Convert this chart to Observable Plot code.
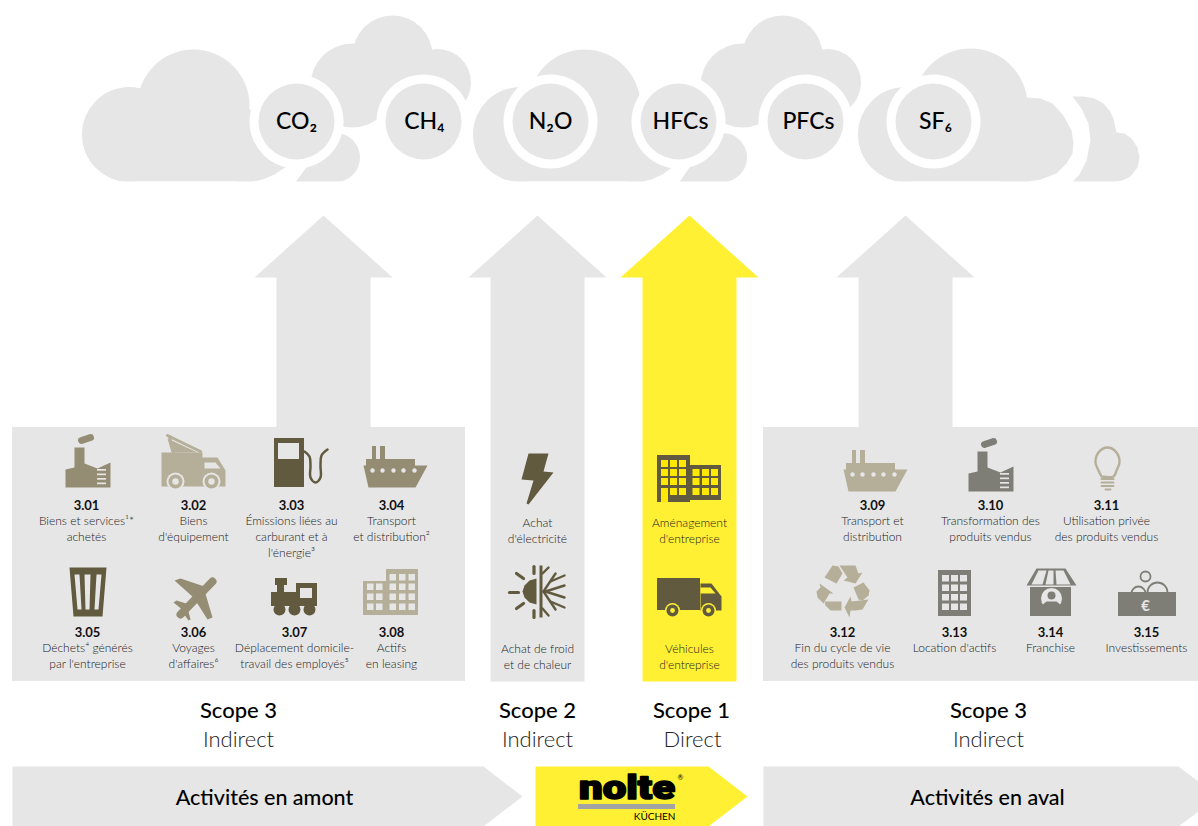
<!DOCTYPE html>
<html><head><meta charset="utf-8">
<script src="https://cdn.jsdelivr.net/npm/d3@7"></script>
<script src="https://cdn.jsdelivr.net/npm/@observablehq/plot@0.6"></script>
<style>html,body{margin:0;padding:0;background:#fff}svg{display:block}</style>
</head><body><div id="chart"></div>
<script>
const gases = ["CO₂","CH₄","N₂O","HFCs","PFCs","SF₆"];
const scopeNames = ["Scope 3","Scope 2","Scope 1","Scope 3"];
const scopeKinds = ["Indirect","Indirect","Direct","Indirect"];
const stages = ["Activités en amont","Activités en aval"];
const codes = ["3.01","3.02","3.03","3.04","3.05","3.06","3.07","3.08","3.09","3.10","3.11","3.12","3.13","3.14","3.15"];
const labels = ["Biens et services¹*\nachetés","Biens\nd'équipement","Émissions liées au\ncarburant et à\nl'énergie³","Transport\net distribution²",
 "Déchets⁴ générés\npar l'entreprise","Voyages\nd'affaires⁶","Déplacement domicile-\ntravail des employés⁵","Actifs\nen leasing",
 "Transport et\ndistribution","Transformation des\nproduits vendus","Utilisation privée\ndes produits vendus",
 "Fin du cycle de vie\ndes produits vendus","Location d'actifs","Franchise","Investissements"];
const middleLabels = ["Achat\nd'électricité","Achat de froid\net de chaleur","Aménagement\nd'entreprise","Véhicules\nd'entreprise"];

// layout (kept apart from the content above)
const gasX = [296,423,550,678,805,933];
const gasTextX = [296,424,550,680,808,935];
const scopeX = [238,537,691,988];
const stageX = [264,987];
const codeX = [86,193,291,391,87,193,294,391,872,990,1106,842,954,1050,1146];
const codeY = [505,505,505,505,632,632,632,632,505,505,505,632,632,632,632];
const midX = [537,537,689,689];
const midY = [515,641,515,641];

const GREY="#e6e6e6", YEL="#fff033", WIN="#ffe900", DK="#625a3f", MID="#948c73", LT="#b5ae98", SLATE="#7f7e76";
const FONT="Lato, 'Open Sans', sans-serif";
const BASE=181.5;
const marks=[];
const poly=(p,fill,curve="linear-closed")=>marks.push(Plot.line(p,{x:d=>d[0],y:d=>d[1],fill,stroke:"none",curve}));
const rect=(x1,y1,x2,y2,fill)=>marks.push(Plot.rect([[x1,y1,x2,y2]],{x1:d=>d[0],y1:d=>d[1],x2:d=>d[2],y2:d=>d[3],fill}));
const dot=(x,y,r,fill,o={})=>marks.push(Plot.dot([[x,y]],{x:d=>d[0],y:d=>d[1],r,fill,...o}));
const line=(p,stroke,strokeWidth=3,curve="linear",cap="round")=>marks.push(Plot.line(p,{x:d=>d[0],y:d=>d[1],stroke,strokeWidth,curve,strokeLinecap:cap}));
const text=(x,y,t,o)=>marks.push(Plot.text([t],{x:()=>x,y:()=>y,text:d=>d,fontFamily:FONT,...o}));

// clouds
function cloudBack(dx){
  dot(dx+392,55,40,GREY); dot(dx+437,82,33.5,GREY); dot(dx+352,85,42,GREY);
  rect(dx+352,60,dx+440,113,GREY);
}
function cloudLeftPart(dx,mainX){
  dot(dx+129,134,47.5,GREY); dot(mainX,105,56,GREY);
  rect(dx+129,110,dx+240,BASE,GREY);
}
cloudBack(0); cloudBack(390);
// cloud 1
cloudLeftPart(0,193);
poly([[235,BASE],[251,BASE],[262,179],[274,174],[286,166],[288,130],[270,115],[235,105]],GREY);
dot(335,157,24.5,GREY);
poly([[306,167],[295,BASE],[335,BASE],[335,150],[306,150]],GREY);
// cloud 2
cloudLeftPart(391,584);
poly([[626,BASE],[640,BASE],[651,179],[662,174],[673,166],[675,130],[661,115],[626,105]],GREY);
dot(722,157,24.5,GREY);
poly([[689,167],[679,BASE],[722,BASE],[722,150],[689,150]],GREY);
// cloud 3 and its separated lobe
poly([[1072,96],[1083,96],[1094,98],[1103,103],[1109,110],[1113,118],[1116,132],[1124,133],[1131,138],[1137,147],[1139,157],[1137,167],[1130,176],[1122,180],[1113,BASE],[1072,BASE],[1079,174],[1086,160],[1090,140],[1088,123],[1081,108]],GREY);
dot(906-1,134,47.5,GREY); dot(970,105,57,GREY);
rect(905,110,1030,BASE,GREY);
poly([[1027,97],[1040,98],[1052,103],[1063,115],[1071,130],[1073,142],[1072,153],[1066,163],[1056,173],[1040,179],[1025,BASE],[1000,BASE],[1000,97]],GREY);
rect(60,BASE,1160,196,"#fff");

// gas circles
gasX.forEach(x=>dot(x,121,47,"#fff"));
gasX.forEach((x,i)=>{dot(x,121,38,GREY); text(gasTextX[i],121,gases[i],{fontSize:23,fontWeight:500,fill:"#000"});});

// upward arrows
const arrow=(cx,c,bottom)=>poly([[cx,215],[cx+69,277],[cx+47,277],[cx+47,bottom],[cx-47,bottom],[cx-47,277],[cx-69,277]],c);
arrow(323,GREY,430); arrow(537,GREY,681); arrow(689,YEL,681); arrow(905,GREY,430);
rect(12,427,465,681,GREY); rect(763,427,1198,681,GREY);

// icons
function factory(dx,dy,c){
  line([[dx+16,dy+7],[dx+25,dy+4]],c,7);
  poly([[dx,dy+36],[dx+9,dy+34],[dx+9,dy+14],[dx+19,dy+14],[dx+19,dy+30],[dx+32,dy+35],[dx+45,dy+29],[dx+45,dy+54],[dx,dy+54]],c);
  [36,40.5,45,49.5].forEach(y=>rect(dx+32,dy+y,dx+41,dy+y+1.7,GREY));
}
function ship(dx,dy,c){
  rect(dx+9,dy+1,dx+13,dy+16,c); rect(dx+17,dy+1,dx+22,dy+16,c);
  rect(dx+3,dy+14,dx+52,dy+22,c);
  poly([[dx,dy+20],[dx+64,dy+20],[dx+52,dy+42],[dx+5,dy+42]],c);
  [9,19,30,40,51].forEach(x=>dot(dx+x,dy+25,2.2,GREY));
}
factory(65,433,MID);
// 3.02 truck
line([[167,435],[200,451]],LT,3); line([[169,436],[173,452]],LT,3);
poly([[167,438],[197,452],[171,452]],LT);
poly([[161,452],[202,452],[202,457],[217,457],[225,470],[225,486],[161,486]],LT);
poly([[204,462],[215,462],[220,468],[204,468]],GREY);
[175,211].forEach(x=>{dot(x,481,9,GREY);dot(x,481,7,LT);dot(x,481,3.2,GREY);});
// 3.03 pump
rect(274,438,304,487,DK); rect(278,443,299,459,GREY);
line([[304,451],[309,456],[310,465],[310,477],[315,482],[320,477],[320,465],[321,455],[327,449]],DK,2.5,"catmull-rom");
ship(363,445,MID);
// 3.05 bin
poly([[69,567],[106,567],[102,616],[73,616]],DK);
[[74,79,77,81],[84,90,85,89],[96,101,94,98]].forEach(a=>poly([[a[0],574],[a[1],574],[a[3],609],[a[2],609]],GREY));
// 3.06 plane
line([[180,614],[212,581]],MID,8);
poly([[174,580],[180,578],[204,586],[193,597]],MID);
poly([[212,617],[207,619],[195,600],[204,590]],MID);
poly([[173,602],[176,600],[189,604],[183,610]],MID);
poly([[190,619],[188,620],[180,609],[186,603]],MID);
// 3.07 train
rect(275,578,287,585,DK); rect(277,585,284,596,DK); rect(271,592,297,606,DK);
rect(271,598,317,606,DK); rect(296,583,317,603,DK); rect(300,588,312,598,GREY);
[279,294,309].forEach(x=>dot(x,609,6,DK));
// 3.08 building
function block(x1,y1,x2,y2,c,cols,rows,w,h,wc){rect(x1,y1,x2,y2,c);cols.forEach(a=>rows.forEach(b=>rect(a,b,a+w,b+h,wc)));}
block(363,581,386,615,LT,[367,376],[583.5,593.5,603.5],6.5,6.5,GREY);
block(386,569,418,615,LT,[389.5,399,408.5],[574,583.5,593.5,603.5],6.5,6.5,GREY);
// lightning
poly([[528,453],[548,453],[543,471],[553,472],[528,504],[526,503],[533,480],[521,479]],DK);
// sun / snow
poly([[536,578],[529,580],[524,585],[522,591],[524,597],[529,602],[536,604]],DK);
line([[540.5,565],[540.5,617]],DK,3,"linear","butt");
[[[509,592],[518,592]],[[516,573],[523,578]],[[516,608],[523,603]],[[533.5,566],[533.5,573]],[[533.5,610],[533.5,617]]].forEach(p=>line(p,DK,3.2));
[[[542,573],[548,567]],[[542,608],[548,615]],[[543,591],[555,573]],[[550,581],[564,575]],[[543,591],[555,609]],[[550,601],[564,607]],[[545,591],[564,585]],[[545,591],[564,597]]].forEach(p=>line(p,DK,2.4));
// Scope 1 building and truck
block(657,455,690,502,DK,[661,670,679],[460,469,478,488],7,7,WIN);
block(690,465,721,500,DK,[692.5,702,711],[469,478,488],7,7,WIN);
rect(661,488,668,502,WIN);
rect(657,578,700,610,DK);
poly([[700,583],[711,583],[721,596],[721,610],[700,610]],DK);
poly([[700,587],[710,587],[715,593],[700,593]],YEL);
[672,708].forEach(x=>{dot(x,610,7.5,YEL);dot(x,610,6,DK);dot(x,610,2.4,YEL);});
// right side
ship(843,449,LT);
factory(968,437,SLATE);
// 3.11 bulb
line([[1101,476],[1098,470],[1095,462],[1098,452],[1107,447],[1116,452],[1119,462],[1116,470],[1113,476],[1101,476]],LT,2.4,"catmull-rom");
[478.5,482,485.5].forEach(y=>line([[1101,y],[1113,y]],LT,2));
line([[1105,489],[1110,489]],LT,2);
// 3.12 recycle
poly([[824,577],[832,565],[838,566],[842,573],[836,583]],LT);
poly([[839,565],[855,565],[858,573],[862,572],[855,583],[843,580],[847,577]],LT);
poly([[853,587],[863,582],[869,590],[868,595],[862,600],[858,599]],LT);
poly([[868,599],[862,609],[855,610],[850,610],[849,617],[844,607],[850,596],[851,601]],LT);
poly([[824,601],[841,601],[841,610],[830,610],[825,605]],LT);
poly([[819,583],[833,593],[829,593],[823,603],[817,597],[816,591],[820,587]],LT);
// 3.13 tall building
block(938,570,971,616,SLATE,[942,951,960],[575,584.5,594,603.5],7,6.5,GREY);
// 3.14 shop
poly([[1036,568],[1065,568],[1076,585],[1026,585]],SLATE);
[[1038,570,1046,570,1042,584,1031,584],[1048,570,1053,570,1053,584,1045,584],[1055,570,1063,570,1070,584,1056,584]].forEach(a=>poly([[a[0],a[1]],[a[2],a[3]],[a[4],a[5]],[a[6],a[7]]],GREY));
rect(1030,587,1071,616,SLATE);
dot(1051,598,10.5,GREY); dot(1051,595,4,SLATE);
poly([[1041,605],[1046,601],[1056,601],[1061,605],[1051,611]],SLATE);
// 3.15 coins
[[1145,576,5],[1138,593,7],[1157,592,10]].forEach(([x,y,r])=>dot(x,y,r,"none",{stroke:SLATE,strokeWidth:1.8}));
rect(1118,592,1176,616,SLATE);
text(1145,606,"€",{fontSize:15,fontWeight:700,fill:GREY});

// item labels
codes.forEach((c,i)=>{
  text(codeX[i],codeY[i],c,{fontSize:13,fontWeight:700,fill:"#111"});
  text(codeX[i],codeY[i]+8,labels[i],{fontSize:12,fontWeight:300,fill:"#222",lineAnchor:"top",lineHeight:1.33});
});
middleLabels.forEach((t,i)=>text(midX[i],midY[i],t,{fontSize:12,fontWeight:300,fill:"#222",lineAnchor:"top",lineHeight:1.33}));

// scope titles
scopeNames.forEach((s,i)=>{
  text(scopeX[i],710,s,{fontSize:22,fontWeight:500,fill:"#000"});
  text(scopeX[i]+(i==2?1:0),739,scopeKinds[i],{fontSize:22,fontWeight:300,fill:"#222"});
});

// bottom arrows
poly([[12,766],[483,766],[522,796],[483,826],[12,826]],GREY);
poly([[535,766],[708,766],[747,796],[708,826],[535,826]],YEL);
poly([[763,766],[1178,766],[1198,781],[1198,811],[1178,826],[763,826]],GREY);
text(stageX[0],798,stages[0],{fontSize:21.5,fontWeight:500,fill:"#000"});
text(stageX[1],798,stages[1],{fontSize:21.5,fontWeight:500,fill:"#000"});

// logo
text(626.5,788,"nolte",{fontSize:33,fontWeight:900,fill:"#000",stroke:"#000",strokeWidth:1.6,fontFamily:"Roboto, Lato, sans-serif"});
text(680,777,"®",{fontSize:7,fill:"#000"});
rect(578,804,675,809,"#a3a3a3");
text(675,816,"KÜCHEN",{fontSize:10,fontWeight:400,fill:"#000",textAnchor:"end"});

const chart=Plot.plot({width:1198,height:826,margin:0,
  x:{domain:[0,1198],range:[0,1198],axis:null},
  y:{domain:[0,826],range:[0,826],axis:null},
  style:{background:"#fff"},marks});
document.getElementById("chart").append(chart);
// stretch the logotype to the width of the bar beneath it
chart.querySelectorAll("text").forEach(t=>{
  if(t.textContent==="nolte"){t.setAttribute("textLength","96");t.setAttribute("lengthAdjust","spacingAndGlyphs");}
});
</script></body></html>
